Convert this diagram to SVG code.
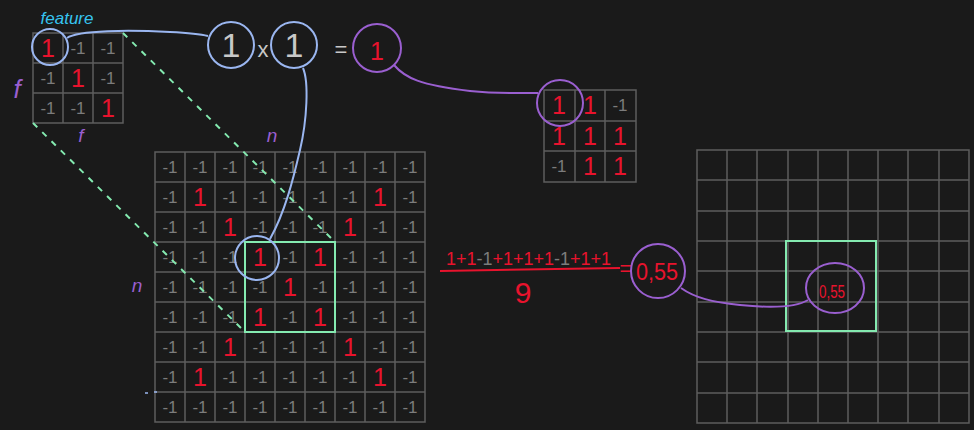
<svg xmlns="http://www.w3.org/2000/svg" width="974" height="430" viewBox="0 0 974 430">
<defs>
<style>
.bg{fill:#1a1a1a}
.grid{fill:none;stroke:#5e5e5e;stroke-width:1.5}
.g{font-family:"Liberation Sans",sans-serif;font-size:17px;fill:#7c7c7c;text-anchor:middle}
.r{font-family:"Liberation Sans",sans-serif;font-size:25px;fill:#e8132d;text-anchor:middle}
.w{font-family:"Liberation Sans",sans-serif;font-size:34px;fill:#c8c8c8;text-anchor:middle}
.lbl{font-family:"Liberation Sans",sans-serif;font-style:italic;fill:#9a5fd0;text-anchor:middle}
.f{font-family:"Liberation Sans",sans-serif;font-size:18px}
.blue{fill:none;stroke:#9ab6f0;stroke-width:2}
.purple{fill:none;stroke:#9a5fd0;stroke-width:2}
.green{fill:none;stroke:#84eab0;stroke-width:2}
.dash{fill:none;stroke:#84eab0;stroke-width:2;stroke-dasharray:6 7}
</style>
</defs>
<rect class="bg" x="0" y="0" width="974" height="430"/>

<g id="filter">
<text x="67" y="24" font-family="Liberation Sans, sans-serif" font-style="italic" font-size="17" fill="#36c4f0" text-anchor="middle">feature</text>
<path class="grid" d="M33,33H123V123H33Z M63,33V123 M93,33V123 M33,63H123 M33,93H123"/>
<text class="r" x="48" y="57">1</text><text class="g" x="78" y="54">-1</text><text class="g" x="108" y="54">-1</text>
<text class="g" x="48" y="84">-1</text><text class="r" x="78" y="87">1</text><text class="g" x="108" y="84">-1</text>
<text class="g" x="48" y="114">-1</text><text class="g" x="78" y="114">-1</text><text class="r" x="108" y="117">1</text>
<text class="lbl" x="17" y="98" font-size="26">f</text>
<text class="lbl" x="81" y="142" font-size="19">f</text>
<circle class="blue" cx="50" cy="47" r="18"/>
</g>

<g id="product">
<circle class="blue" cx="231" cy="45" r="23"/>
<text class="w" x="231" y="57">1</text>
<text x="263" y="57" font-family="Liberation Sans, sans-serif" font-size="22" fill="#c8c8c8" text-anchor="middle">x</text>
<circle class="blue" cx="294" cy="45" r="23"/>
<text class="w" x="294" y="57">1</text>
<text x="341" y="57" font-family="Liberation Sans, sans-serif" font-size="22" fill="#c8c8c8" text-anchor="middle">=</text>
<circle class="purple" cx="377" cy="48" r="24"/>
<text class="r" x="377" y="60" font-size="34">1</text>
</g>

<g id="output">
<path class="grid" d="M544,90H636V182H544Z M575,90V182 M605,90V182 M544,121H636 M544,151H636"/>
<text class="r" x="559" y="114">1</text><text class="r" x="590" y="114">1</text><text class="g" x="620" y="111">-1</text>
<text class="r" x="559" y="145">1</text><text class="r" x="590" y="145">1</text><text class="r" x="620" y="145">1</text>
<text class="g" x="559" y="172">-1</text><text class="r" x="590" y="175">1</text><text class="r" x="620" y="175">1</text>
<circle class="purple" cx="560" cy="103" r="23"/>
</g>

<g id="image">
<path class="grid" d="M155,152H425V422H155Z M185,152V422 M215,152V422 M245,152V422 M275,152V422 M305,152V422 M335,152V422 M365,152V422 M395,152V422 M155,182H425 M155,212H425 M155,242H425 M155,272H425 M155,302H425 M155,332H425 M155,362H425 M155,392H425"/>
<text class="g" x="170" y="173">-1</text><text class="g" x="200" y="173">-1</text><text class="g" x="230" y="173">-1</text><text class="g" x="260" y="173">-1</text><text class="g" x="290" y="173">-1</text><text class="g" x="320" y="173">-1</text><text class="g" x="350" y="173">-1</text><text class="g" x="380" y="173">-1</text><text class="g" x="410" y="173">-1</text>
<text class="g" x="170" y="203">-1</text><text class="r" x="200" y="206">1</text><text class="g" x="230" y="203">-1</text><text class="g" x="260" y="203">-1</text><text class="g" x="290" y="203">-1</text><text class="g" x="320" y="203">-1</text><text class="g" x="350" y="203">-1</text><text class="r" x="380" y="206">1</text><text class="g" x="410" y="203">-1</text>
<text class="g" x="170" y="233">-1</text><text class="g" x="200" y="233">-1</text><text class="r" x="230" y="236">1</text><text class="g" x="260" y="233">-1</text><text class="g" x="290" y="233">-1</text><text class="g" x="320" y="233">-1</text><text class="r" x="350" y="236">1</text><text class="g" x="380" y="233">-1</text><text class="g" x="410" y="233">-1</text>
<text class="g" x="170" y="263">-1</text><text class="g" x="200" y="263">-1</text><text class="g" x="230" y="263">-1</text><text class="r" x="260" y="266">1</text><text class="g" x="290" y="263">-1</text><text class="r" x="320" y="266">1</text><text class="g" x="350" y="263">-1</text><text class="g" x="380" y="263">-1</text><text class="g" x="410" y="263">-1</text>
<text class="g" x="170" y="293">-1</text><text class="g" x="200" y="293">-1</text><text class="g" x="230" y="293">-1</text><text class="g" x="260" y="293">-1</text><text class="r" x="290" y="296">1</text><text class="g" x="320" y="293">-1</text><text class="g" x="350" y="293">-1</text><text class="g" x="380" y="293">-1</text><text class="g" x="410" y="293">-1</text>
<text class="g" x="170" y="323">-1</text><text class="g" x="200" y="323">-1</text><text class="g" x="230" y="323">-1</text><text class="r" x="260" y="326">1</text><text class="g" x="290" y="323">-1</text><text class="r" x="320" y="326">1</text><text class="g" x="350" y="323">-1</text><text class="g" x="380" y="323">-1</text><text class="g" x="410" y="323">-1</text>
<text class="g" x="170" y="353">-1</text><text class="g" x="200" y="353">-1</text><text class="r" x="230" y="356">1</text><text class="g" x="260" y="353">-1</text><text class="g" x="290" y="353">-1</text><text class="g" x="320" y="353">-1</text><text class="r" x="350" y="356">1</text><text class="g" x="380" y="353">-1</text><text class="g" x="410" y="353">-1</text>
<text class="g" x="170" y="383">-1</text><text class="r" x="200" y="386">1</text><text class="g" x="230" y="383">-1</text><text class="g" x="260" y="383">-1</text><text class="g" x="290" y="383">-1</text><text class="g" x="320" y="383">-1</text><text class="g" x="350" y="383">-1</text><text class="r" x="380" y="386">1</text><text class="g" x="410" y="383">-1</text>
<text class="g" x="170" y="413">-1</text><text class="g" x="200" y="413">-1</text><text class="g" x="230" y="413">-1</text><text class="g" x="260" y="413">-1</text><text class="g" x="290" y="413">-1</text><text class="g" x="320" y="413">-1</text><text class="g" x="350" y="413">-1</text><text class="g" x="380" y="413">-1</text><text class="g" x="410" y="413">-1</text>
<rect class="green" x="245" y="242" width="90" height="90"/>
<circle class="blue" cx="257" cy="258" r="22"/>
<text class="lbl" x="272" y="142" font-size="19">n</text>
<text class="lbl" x="137" y="292" font-size="19">n</text>
<path d="M145,393h3 M154,392h3" stroke="#9ab6f0" stroke-width="1.5"/>
</g>

<g id="formula">
<text class="f" x="446" y="265" fill="#e8132d">1+1</text>
<text class="f" x="476.5" y="265" fill="#7c7c7c">-1</text>
<text class="f" x="492.5" y="265" fill="#e8132d">+1+1+1</text>
<text class="f" x="554" y="265" fill="#7c7c7c">-1</text>
<text class="f" x="570" y="265" fill="#e8132d">+1+1</text>
<path d="M440,271 L620,268" stroke="#e8132d" stroke-width="2"/>
<text x="626" y="276" font-family="Liberation Sans, sans-serif" font-size="22" fill="#e8132d" text-anchor="middle">=</text>
<text x="523" y="303" font-family="Liberation Sans, sans-serif" font-size="30" fill="#e8132d" text-anchor="middle">9</text>
<circle class="purple" cx="658" cy="271" r="27"/>
<text x="657" y="280" font-family="Liberation Sans, sans-serif" font-size="23" fill="#e8132d" text-anchor="middle" textLength="42" lengthAdjust="spacingAndGlyphs">0,55</text>
</g>

<g id="feature-map">
<path class="grid" d="M697,150H969V423H697Z M727,150V423 M757,150V423 M788,150V423 M818,150V423 M848,150V423 M878,150V423 M908,150V423 M939,150V423 M697,180H969 M697,211H969 M697,241H969 M697,271H969 M697,302H969 M697,332H969 M697,362H969 M697,393H969"/>
<rect class="green" x="786" y="241" width="90" height="90"/>
<ellipse class="purple" cx="835" cy="288" rx="29" ry="25"/>
<text x="832" y="298" font-family="Liberation Sans, sans-serif" font-size="19" fill="#e8132d" text-anchor="middle" textLength="26" lengthAdjust="spacingAndGlyphs">0,55</text>
</g>

<g id="connectors">
<path class="blue" d="M67,38 C78,30 130,30 170,32 C190,33 200,34 208,36"/>
<path class="blue" d="M303,68 C309,82 307,120 300,150 C293,180 285,212 270,239"/>
<path class="purple" d="M394,65 C405,78 420,85 470,91 C500,94 520,93 538,93"/>
<path class="purple" d="M681,288 C695,298 712,302 740,305 C770,308 795,308 808,300"/>
<path class="dash" d="M123,33 L335,242"/>
<path class="dash" d="M33,123 L245,332"/>
</g>
</svg>
